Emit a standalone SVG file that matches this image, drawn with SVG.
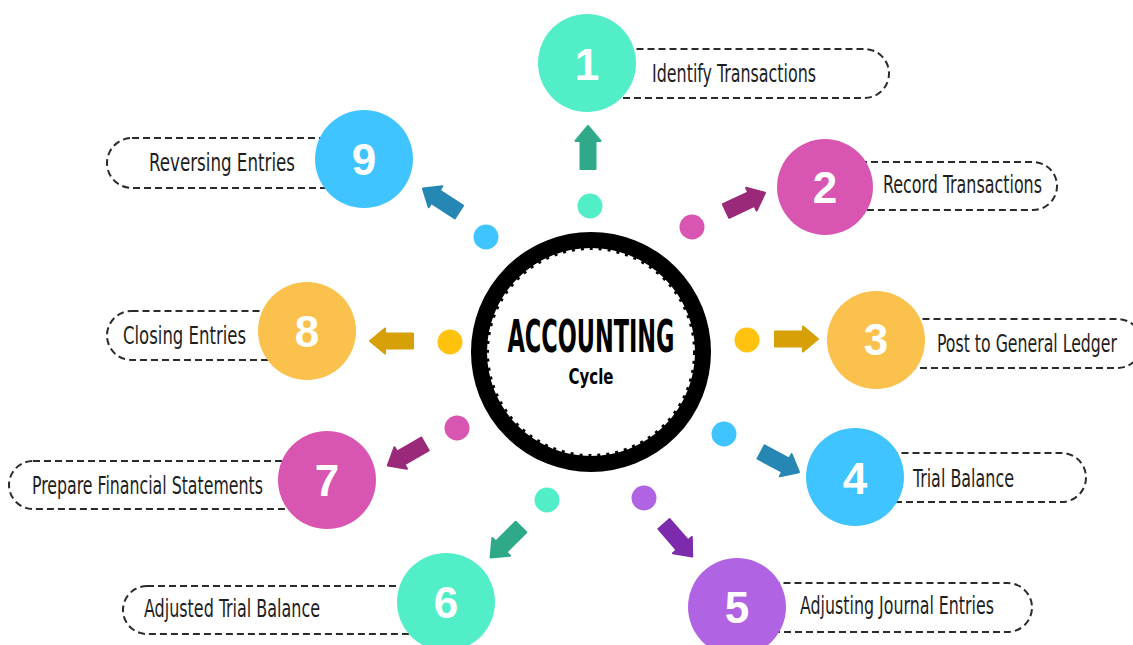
<svg xmlns="http://www.w3.org/2000/svg" width="1133" height="645" viewBox="0 0 1133 645">
<defs>
<style>
.box{fill:#fff;stroke:#2b2b2b;stroke-width:2;stroke-dasharray:7 4}
.lbl{font-family:"Liberation Sans Narrow","DejaVu Sans Condensed","Roboto Condensed","Liberation Sans",sans-serif;font-size:25px;fill:#1e1e1e}
.num{font-family:"Liberation Sans","Open Sans",sans-serif;font-weight:bold;font-size:44px;fill:#fff;text-anchor:middle}
.teal{fill:#52EEC8}.pink{fill:#D856B1}.yel{fill:#FAC14D}.blue{fill:#40C4FF}.purp{fill:#B064E3}
</style>
<path id="arr" d="M0,-7.5 L28,-7.5 L28,-12.5 L43,0 L28,12.5 L28,7.5 L0,7.5 Z" stroke-linejoin="round" stroke-width="2"/>
</defs>
<rect width="1133" height="645" fill="#fff"/>

<g id="center">
<circle cx="591" cy="352" r="112" fill="none" stroke="#000" stroke-width="16"/>
<circle cx="591" cy="352" r="103.5" fill="none" stroke="#000" stroke-width="3" stroke-dasharray="3 6"/>
<text x="591" y="352" text-anchor="middle" textLength="167" lengthAdjust="spacingAndGlyphs" style="font-family:'Liberation Sans Narrow','DejaVu Sans Condensed','Liberation Sans',sans-serif;font-weight:bold;font-size:44px;fill:#000">ACCOUNTING</text>
<text x="591" y="384" text-anchor="middle" textLength="45" lengthAdjust="spacingAndGlyphs" style="font-family:'Liberation Sans Narrow','DejaVu Sans Condensed','Liberation Sans',sans-serif;font-weight:bold;font-size:21px;fill:#000">Cycle</text>
</g>

<g id="connectors">
<circle cx="590" cy="206" r="12.5" class="teal"/>
<use href="#arr" transform="translate(588,169) rotate(-90)" fill="#2FA98A" stroke="#2FA98A"/>
<circle cx="692" cy="227" r="12.5" class="pink"/>
<use href="#arr" transform="translate(726,211) rotate(-25)" fill="#9A2A79" stroke="#9A2A79"/>
<circle cx="747" cy="340" r="12.5" fill="#FFC20E"/>
<use href="#arr" transform="translate(775,339)" fill="#D6A006" stroke="#D6A006"/>
<circle cx="724" cy="434" r="12.5" class="blue"/>
<use href="#arr" transform="translate(761,452) rotate(28)" fill="#2687B4" stroke="#2687B4"/>
<circle cx="644" cy="498" r="12.5" class="purp"/>
<use href="#arr" transform="translate(664,524) rotate(49)" fill="#7B2BAC" stroke="#7B2BAC"/>
<circle cx="547" cy="500" r="12.5" class="teal"/>
<use href="#arr" transform="translate(521,527) rotate(135)" fill="#2FA98A" stroke="#2FA98A"/>
<circle cx="457" cy="428" r="12.5" class="pink"/>
<use href="#arr" transform="translate(425,444) rotate(150)" fill="#9A2A79" stroke="#9A2A79"/>
<circle cx="450" cy="342" r="12.5" fill="#FFC20E"/>
<use href="#arr" transform="translate(413,341) rotate(180)" fill="#D6A006" stroke="#D6A006"/>
<circle cx="486" cy="237" r="12.5" class="blue"/>
<use href="#arr" transform="translate(459,212) rotate(-147)" fill="#2687B4" stroke="#2687B4"/>
</g>

<g id="node1">
<rect class="box" x="590" y="49" width="299" height="49" rx="24.5"/>
<circle cx="587" cy="63" r="49" class="teal"/>
<text class="num" x="587" y="80">1</text>
<text class="lbl" x="652" y="82" textLength="164" lengthAdjust="spacingAndGlyphs">Identify Transactions</text>
</g>
<g id="node2">
<rect class="box" x="825" y="162" width="232" height="48" rx="24"/>
<circle cx="825" cy="187" r="48" class="pink"/>
<text class="num" x="825" y="203">2</text>
<text class="lbl" x="883" y="193" textLength="159" lengthAdjust="spacingAndGlyphs">Record Transactions</text>
</g>
<g id="node3">
<rect class="box" x="876" y="319" width="266" height="49" rx="24.5"/>
<circle cx="876" cy="340" r="49" class="yel"/>
<text class="num" x="876" y="355">3</text>
<text class="lbl" x="937" y="352" textLength="180" lengthAdjust="spacingAndGlyphs">Post to General Ledger</text>
</g>
<g id="node4">
<rect class="box" x="855" y="453" width="231" height="49" rx="24.5"/>
<circle cx="855" cy="477" r="49" class="blue"/>
<text class="num" x="855" y="494">4</text>
<text class="lbl" x="913" y="487" textLength="101" lengthAdjust="spacingAndGlyphs">Trial Balance</text>
</g>
<g id="node5">
<rect class="box" x="737" y="583" width="295" height="49" rx="24.5"/>
<circle cx="737" cy="607" r="49" class="purp"/>
<text class="num" x="737" y="623">5</text>
<text class="lbl" x="800" y="614" textLength="194" lengthAdjust="spacingAndGlyphs">Adjusting Journal Entries</text>
</g>
<g id="node6">
<rect class="box" x="123" y="586" width="323" height="48" rx="24"/>
<circle cx="446" cy="602" r="49" class="teal"/>
<text class="num" x="446" y="618">6</text>
<text class="lbl" x="144" y="617" textLength="176" lengthAdjust="spacingAndGlyphs">Adjusted Trial Balance</text>
</g>
<g id="node7">
<rect class="box" x="9" y="461" width="318" height="48" rx="24"/>
<circle cx="327" cy="480" r="49" class="pink"/>
<text class="num" x="327" y="496">7</text>
<text class="lbl" x="32" y="494" textLength="231" lengthAdjust="spacingAndGlyphs">Prepare Financial Statements</text>
</g>
<g id="node8">
<rect class="box" x="107" y="311" width="200" height="49" rx="24.5"/>
<circle cx="307" cy="331" r="49" class="yel"/>
<text class="num" x="307" y="347">8</text>
<text class="lbl" x="123" y="344" textLength="123" lengthAdjust="spacingAndGlyphs">Closing Entries</text>
</g>
<g id="node9">
<rect class="box" x="107" y="138" width="257" height="50" rx="25"/>
<circle cx="364" cy="159" r="49" class="blue"/>
<text class="num" x="364" y="175">9</text>
<text class="lbl" x="149" y="171" textLength="146" lengthAdjust="spacingAndGlyphs">Reversing Entries</text>
</g>
</svg>
